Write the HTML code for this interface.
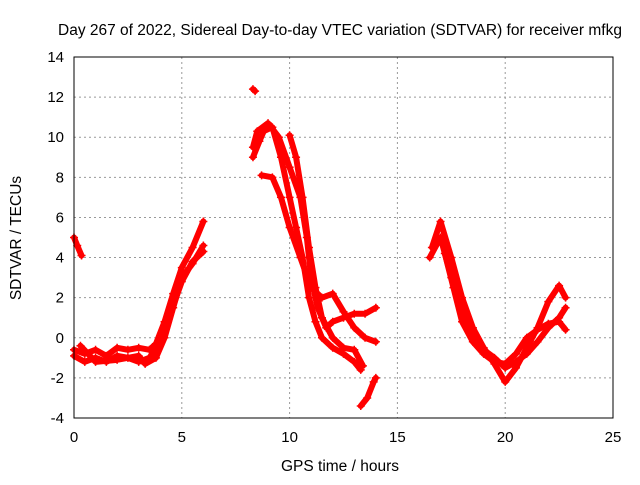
<!DOCTYPE html>
<html><head><meta charset="utf-8"><style>
body{margin:0;background:#fff;font-family:"Liberation Sans",sans-serif}
svg text{font-family:"Liberation Sans",sans-serif;font-size:15px;fill:#000}
</style></head><body>
<svg id="c" width="640" height="480" xmlns="http://www.w3.org/2000/svg">
<rect width="640" height="480" fill="#fff"/>
<text x="340" y="35" text-anchor="middle" style="font-size:15.5px">Day 267 of 2022, Sidereal Day-to-day VTEC variation (SDTVAR) for receiver mfkg</text>
<text x="340" y="471" text-anchor="middle" style="font-size:15.5px">GPS time / hours</text>
<text transform="translate(21,238) rotate(-90)" text-anchor="middle" style="font-size:15.5px">SDTVAR / TECUs</text>
<g id="grid"></g><g id="marks"></g>
<rect x="74" y="57" width="539" height="361" fill="none" stroke="#000"/>
</svg>
<script>
const xTicks=[0,5,10,15,20,25];
const yTicks=[-4,-2,0,2,4,6,8,10,12,14];
const traceA=[[0,5],[0.15,4.6],[0.35,4.1]];
const traceB1=[[0,-0.6],[0.5,-0.8],[1,-0.6],[1.5,-0.9],[2,-0.5],[2.5,-0.6],[3,-0.5],[3.5,-0.6],[3.8,-0.3],[4.2,0.8],[4.6,2.2],[5,3.5],[5.5,4.5],[6,5.8]];
const traceB2=[[0,-0.9],[0.5,-1.2],[1,-1.0],[1.5,-1.2],[2,-0.9],[2.5,-1.0],[3,-1.2],[3.5,-1.0],[4,-0.2],[4.5,1.3],[5,2.8],[5.5,3.8],[6,4.3]];
const traceB3=[[0.3,-0.4],[1,-1.2],[2,-1.1],[3,-0.9],[3.3,-1.3],[3.8,-1],[4.2,0],[4.6,1.5],[5,3],[5.5,3.7],[6,4.6]];
const traceC=[[8.3,12.4],[8.4,12.3]];
const traceD1=[[8.3,9.5],[8.5,10.3],[9,10.7],[9.5,10],[10,8.5],[10.5,7],[10.8,5],[11,3],[11.3,1.5],[11.7,0.5],[12,0.8],[12.5,1],[13,1.2],[13.5,1.2],[14,1.5]];
const traceD2=[[8.3,9],[8.6,9.8],[8.8,10.3],[9.2,10.5],[9.6,9],[10,7],[10.3,5.5],[10.6,4],[10.9,2],[11.2,0.8],[11.5,0],[12,-0.5],[12.5,-0.8],[13,-1.2],[13.3,-1.6]];
const traceD3=[[8.7,8.1],[9.2,8],[9.6,7],[10,5.5],[10.5,4],[11,2.5],[11.5,2],[12,2.2],[12.5,1.3],[13,0.5],[13.5,0],[14,-0.2]];
const traceD4=[[10,10.1],[10.3,9],[10.6,7],[10.9,4.5],[11.2,2.5],[11.5,1],[12,0],[12.5,-0.5],[13,-0.6],[13.4,-1.4]];
const traceD5=[[13.3,-3.4],[13.6,-3],[13.9,-2.2],[14,-2]];
const traceE1=[[16.6,4.5],[17,5.8],[17.5,4],[18,2],[18.5,0.5],[19,-0.5],[19.5,-1.3],[20,-2.2],[20.5,-1.5],[21,-0.5],[21.5,0.5],[22,1.8],[22.5,2.6],[22.8,2]];
const traceE2=[[16.5,4],[17,5],[17.5,3],[18,1.5],[18.5,0.2],[19,-0.6],[19.5,-1],[20,-1.5],[20.5,-1.2],[21,-0.8],[21.5,-0.2],[22,0.5],[22.5,1],[22.8,1.5]];
const traceE3=[[17.2,4.2],[17.6,2.5],[18,0.8],[18.5,-0.2],[19,-0.8],[19.5,-1.2],[20,-1.3],[20.5,-0.8],[21,0],[21.5,0.4],[22,0.7],[22.5,0.8],[22.8,0.4]];
const traces=[traceA,traceB1,traceB2,traceB3,traceC,traceD1,traceD2,traceD3,traceD4,traceD5,traceE1,traceE2,traceE3];
const NS="http://www.w3.org/2000/svg";
const X=v=>74+v/25*539, Y=v=>418-(v+4)/18*361;
const grid=document.getElementById('grid'), marks=document.getElementById('marks');
function mk(tag,at,p){const e=document.createElementNS(NS,tag);for(const k in at)e.setAttribute(k,at[k]);p.appendChild(e);return e;}
xTicks.forEach(t=>{
 if(t>0&&t<25){const l=mk('line',{x1:X(t),x2:X(t),y1:57,y2:418,stroke:'#999','stroke-dasharray':'2,3'},grid);
 
 }
 const tx=mk('text',{x:X(t),y:442,'text-anchor':'middle'},grid);tx.textContent=t;
 
 
});
yTicks.forEach(t=>{
 if(t>-4&&t<14){const l=mk('line',{x1:74,x2:613,y1:Y(t),y2:Y(t),stroke:'#999','stroke-dasharray':'2,3'},grid);
 
 }
 const tx=mk('text',{x:64,y:Y(t)+5,'text-anchor':'end'},grid);tx.textContent=t;
 
 
});
traces.forEach(tr=>{
 const pl=mk('polyline',{points:tr.map(p=>X(p[0])+','+Y(p[1])).join(' '),fill:'none',stroke:'#f00','stroke-width':6,'stroke-linejoin':'round','stroke-linecap':'round'},marks);
 
 
 tr.forEach(p=>{const x=X(p[0]),y=Y(p[1]);
  const c=mk('path',{d:`M${x-4},${y}h8M${x},${y-4}v8`,stroke:'#f00','stroke-width':1.5},marks);
  
  });
});
</script>
</body></html>
